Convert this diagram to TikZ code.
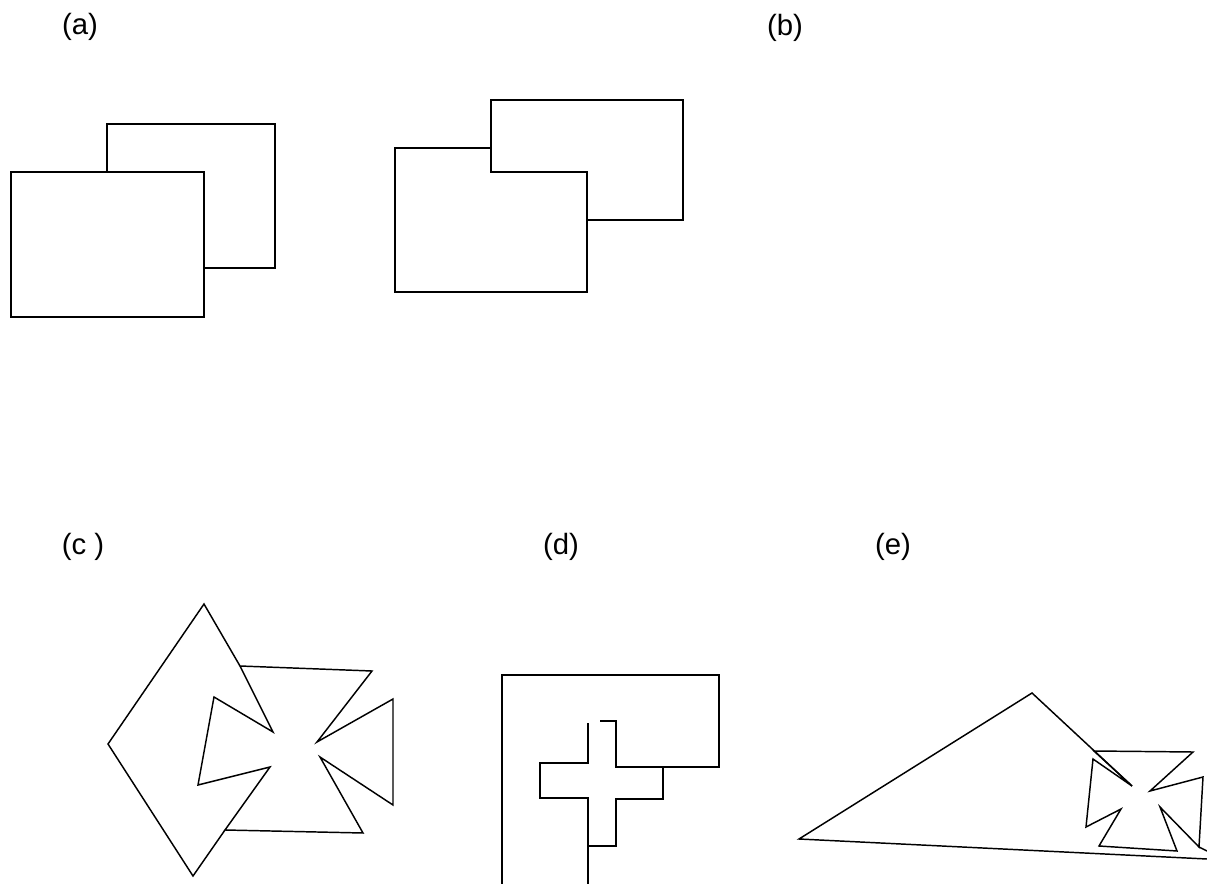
\documentclass[tikz,border=0pt]{standalone}
\usepackage{fontspec}
\setmainfont{Liberation Sans}
\usetikzlibrary{positioning}

\begin{document}
\begin{tikzpicture}[
		x=0.75pt, y=-0.75pt,
		outline/.style={draw=black, line width=1.1pt, line join=miter},
		panel/.style={font=\fontsize{22}{26}\selectfont, inner sep=0pt},
	]
	\useasboundingbox (0,0) rectangle (1207,884);

	% panel labels
	\node (lbla) [panel] at (80,27)  {(a)};
	\node (lblb) [panel] at (785,28) {(b)};
	\node (lblc) [panel] at (83,547) {(c )};
	\node (lbld) [panel] at (561,547) {(d)};
	\node (lble) [panel] at (893,547) {(e)};

	% (a) two rectangles, front one hides the back one
	\draw [outline] (11,172) rectangle (204,317);
	\draw [outline] (107,172) -- (107,124) -- (275,124) -- (275,268) -- (204,268);

	% (b) back rectangle on top of the front one
	\draw [outline] (395,148) -- (491,148) -- (491,100) -- (683,100) -- (683,220)
		-- (587,220) -- (587,292) -- (395,292) -- cycle;
	\draw [outline] (491,148) -- (491,172) -- (587,172) -- (587,220);

	% (c) diamond and cross
	\draw [outline] (240,666) -- (204,604) -- (108,744) -- (193,876) -- (225,830);
	\draw [outline] (240,666) -- (372,671) -- (317,742) -- (393,699) -- (393,805)
		-- (320,757) -- (363,833) -- (225,830) -- (270,767) -- (198,785)
		-- (214,697) -- (273,732) -- cycle;

	% (d) L shape and cross
	\draw [outline] (502,884) -- (502,675) -- (719,675) -- (719,767) -- (616,767)
		-- (616,721) -- (600,721);
	\draw [outline] (588,723) -- (588,763) -- (540,763) -- (540,798) -- (588,798)
		-- (588,884);
	\draw [outline] (663,767) -- (663,799) -- (616,799) -- (616,846) -- (588,846);

	% (e) triangle and cross
	\draw [outline] (1132,786) -- (1032,693) -- (799,839) -- (1207,859);
	\draw [outline] (1094,751) -- (1193,752) -- (1150,791) -- (1203,777) -- (1199,847)
		-- (1160,807) -- (1177,851) -- (1099,846) -- (1121,809) -- (1086,827)
		-- (1093,759) -- (1132,786) -- cycle;
	\draw [outline] (1199,847) -- (1207,851);
\end{tikzpicture}
\end{document}
